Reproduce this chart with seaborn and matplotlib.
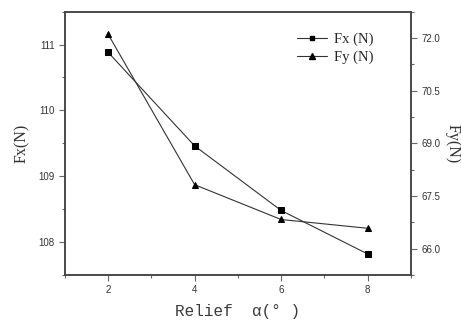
import matplotlib
matplotlib.use('Agg')
import matplotlib.pyplot as plt
from matplotlib.ticker import MultipleLocator, FormatStrFormatter
from matplotlib.lines import Line2D
import seaborn as sns
import pandas as pd

# Data
relief_angle = [2, 4, 6, 8]
fx_values = [110.88, 109.46, 108.48, 107.82]
fy_values = [72.10, 67.82, 66.83, 66.58]

sns.set_theme(style="ticks")
plt.rcParams['font.family'] = ['Liberation Sans', 'DejaVu Sans']

df = pd.DataFrame({'angle': relief_angle, 'Fx': fx_values, 'Fy': fy_values})

fig = plt.figure(figsize=(4.61, 3.22), dpi=100)
ax = fig.add_axes([0.141, 0.146, 0.75, 0.818])
ax2 = ax.twinx()

line_col = '#333333'
sns.lineplot(data=df, x='angle', y='Fx', ax=ax, color=line_col, lw=0.8,
             marker='s', markersize=3.8, markerfacecolor='black',
             markeredgecolor='black')
sns.lineplot(data=df, x='angle', y='Fy', ax=ax2, color=line_col, lw=0.8,
             marker='^', markersize=4.8, markerfacecolor='black',
             markeredgecolor='black')

ax.set_xlim(1, 9)
ax.set_ylim(107.5, 111.5)
ax2.set_ylim(65.25, 72.75)

ax.xaxis.set_major_locator(MultipleLocator(2))
ax.xaxis.set_minor_locator(MultipleLocator(1))
ax.yaxis.set_major_locator(MultipleLocator(1))
ax.yaxis.set_minor_locator(MultipleLocator(0.5))
ax2.yaxis.set_major_locator(MultipleLocator(1.5))
ax2.yaxis.set_minor_locator(MultipleLocator(0.75))
ax2.yaxis.set_major_formatter(FormatStrFormatter('%.1f'))

spine_col = '#444444'
for a in (ax, ax2):
    for s in a.spines.values():
        s.set_color(spine_col)
        s.set_linewidth(1.1)
    a.tick_params(which='major', length=4, width=0.8, color='#666666',
                  labelsize=7, labelcolor='#333333', direction='out')
    a.tick_params(which='minor', length=2.5, width=0.8, color='#666666',
                  direction='out')

ax.set_xlabel('Relief  \u03b1(\u00b0 )', family='Liberation Mono', fontsize=11.5,
              color='#3a3a3a', labelpad=6)
ax.set_ylabel('Fx(N)', family='Liberation Serif', fontsize=11.5,
              color='#333333', labelpad=6)
ax2.set_ylabel('Fy(N)', family='Liberation Serif', fontsize=11.5,
               color='#333333', rotation=270, labelpad=15)

handles = [
    Line2D([], [], color=line_col, lw=0.8, marker='s', markersize=3.5,
           markerfacecolor='black', markeredgecolor='black'),
    Line2D([], [], color=line_col, lw=0.8, marker='^', markersize=4.2,
           markerfacecolor='black', markeredgecolor='black'),
]
ax2.legend(handles, ['Fx (N)', 'Fy (N)'], loc='upper right',
           bbox_to_anchor=(0.93, 0.97), frameon=False, handlelength=2.0,
           handletextpad=0.5, labelspacing=0.3,
           prop={'family': 'Liberation Serif', 'size': 10.5})

fig.savefig('out.png', dpi=100)
